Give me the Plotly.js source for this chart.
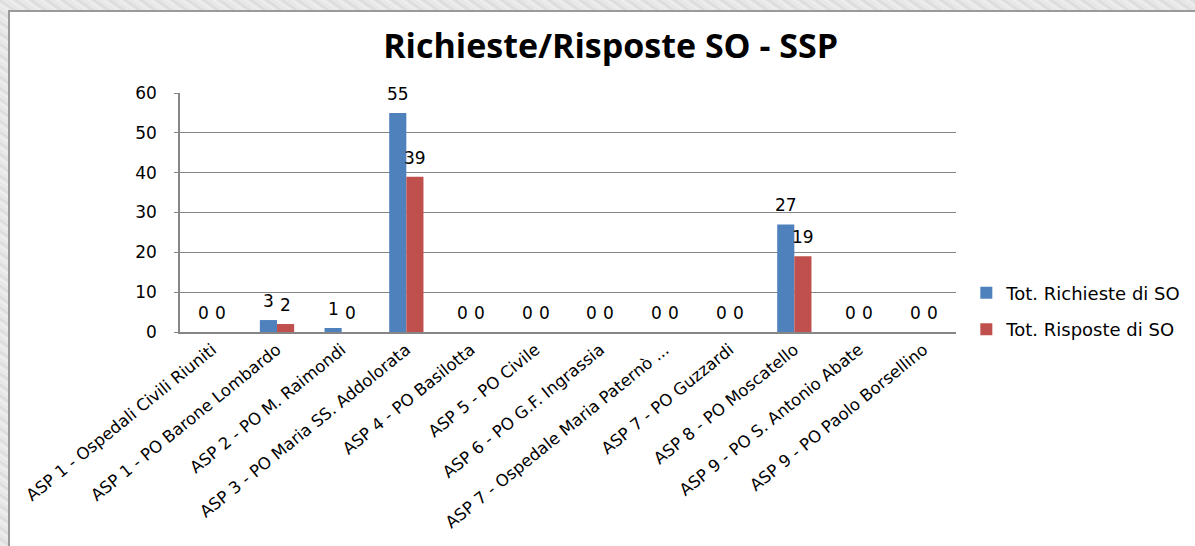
<!DOCTYPE html>
<html>
<head>
<meta charset="utf-8">
<script src="https://cdn.plot.ly/plotly-3.0.1.min.js"></script>
<style>
  body {
    margin: 0;
    width: 1195px;
    height: 546px;
    overflow: hidden;
    background: repeating-linear-gradient(35deg, #e4e4e4 0px, #efefef 3px, #dadada 6px, #ececec 9px);
  }
  #chart {
    position: absolute;
    left: 8px;
    top: 10px;
    width: 1187px;
    height: 536px;
    border-left: 2px solid #9a9a9a;
    border-top: 2px solid #9a9a9a;
    box-sizing: border-box;
  }
</style>
</head>
<body>
<div id="chart"></div>
<script>
// categories and values
const categories = [
  "ASP 1 - Ospedali Civili Riuniti",
  "ASP 1 - PO Barone Lombardo",
  "ASP 2 - PO M. Raimondi",
  "ASP 3 - PO Maria SS. Addolorata",
  "ASP 4 - PO Basilotta",
  "ASP 5 - PO Civile",
  "ASP 6 - PO G.F. Ingrassia",
  "ASP 7 - Ospedale Maria Paternò ...",
  "ASP 7 - PO Guzzardi",
  "ASP 8 - PO Moscatello",
  "ASP 9 - PO S. Antonio Abate",
  "ASP 9 - PO Paolo Borsellino"
];
const richieste = [0, 3, 1, 55, 0, 0, 0, 0, 0, 27, 0, 0];
const risposte = [0, 2, 0, 39, 0, 0, 0, 0, 0, 19, 0, 0];
const yTicks = [0, 10, 20, 30, 40, 50, 60];

const font = "'DejaVu Sans', sans-serif";
const titleFont = "'Open Sans', sans-serif";

const plotWidth = 1187 - 170 - 240;
const bargap = 0.47;
// half a bar, so the value labels sit over their own bar
const halfBar = (plotWidth / categories.length) * (1 - bargap) / 4;

const richiesteTrace = {
  x: categories,
  y: richieste,
  type: "bar",
  name: "Tot. Richieste di SO",
  legendgroup: "a",
  marker: { color: "#4F81BD" },
};

const risposteTrace = {
  x: categories,
  y: risposte,
  type: "bar",
  name: "Tot. Risposte di SO",
  legendgroup: "b",
  marker: { color: "#C0504D" },
};

// value labels above the bars
const labels = [];
categories.forEach((c, i) => {
  labels.push({ x: c, y: richieste[i], text: String(richieste[i]), xshift: -halfBar });
  labels.push({ x: c, y: risposte[i], text: String(risposte[i]), xshift: halfBar });
});
const annotations = labels.map(a => ({
  ...a,
  xref: "x",
  yref: "y",
  showarrow: false,
  yshift: 19,
  yanchor: "middle",
  font: { family: font, size: 17, color: "#000" },
}));

const layout = {
  width: 1187,
  height: 536,
  margin: { t: 81, r: 240, b: 216, l: 170 },
  paper_bgcolor: "#ffffff",
  plot_bgcolor: "#ffffff",
  font: { family: font, color: "#000" },
  title: {
    text: "<b>Richieste/Risposte SO - SSP</b>",
    font: { family: titleFont, size: 34, color: "#000" },
    x: 0.506,
    xanchor: "center",
    y: 0.936,
    yanchor: "middle",
  },
  barmode: "group",
  bargap: bargap,
  bargroupgap: 0,
  showlegend: true,
  legend: {
    x: 1.012,
    xanchor: "left",
    y: 0.24,
    yanchor: "top",
    traceorder: "grouped",
    tracegroupgap: 10,
    font: { family: font, size: 18, color: "#000" },
    itemwidth: 30,
  },
  annotations: annotations,
  xaxis: {
    type: "category",
    tickangle: -39,
    tickfont: { family: font, size: 16.5, color: "#000" },
    showline: true,
    linecolor: "#868686",
    linewidth: 1.5,
    ticks: "",
    showgrid: false,
    zeroline: false,
  },
  yaxis: {
    range: [0, 60],
    tickvals: yTicks,
    tickfont: { family: font, size: 17, color: "#000" },
    showline: true,
    linecolor: "#868686",
    linewidth: 1.5,
    gridcolor: "#868686",
    gridwidth: 1.2,
    zeroline: false,
    ticks: "outside",
    ticklen: 4,
    tickcolor: "#868686",
    ticklabelstandoff: 14,
  },
};

Plotly.newPlot("chart", [richiesteTrace, risposteTrace], layout, { displayModeBar: false });
</script>
</body>
</html>
